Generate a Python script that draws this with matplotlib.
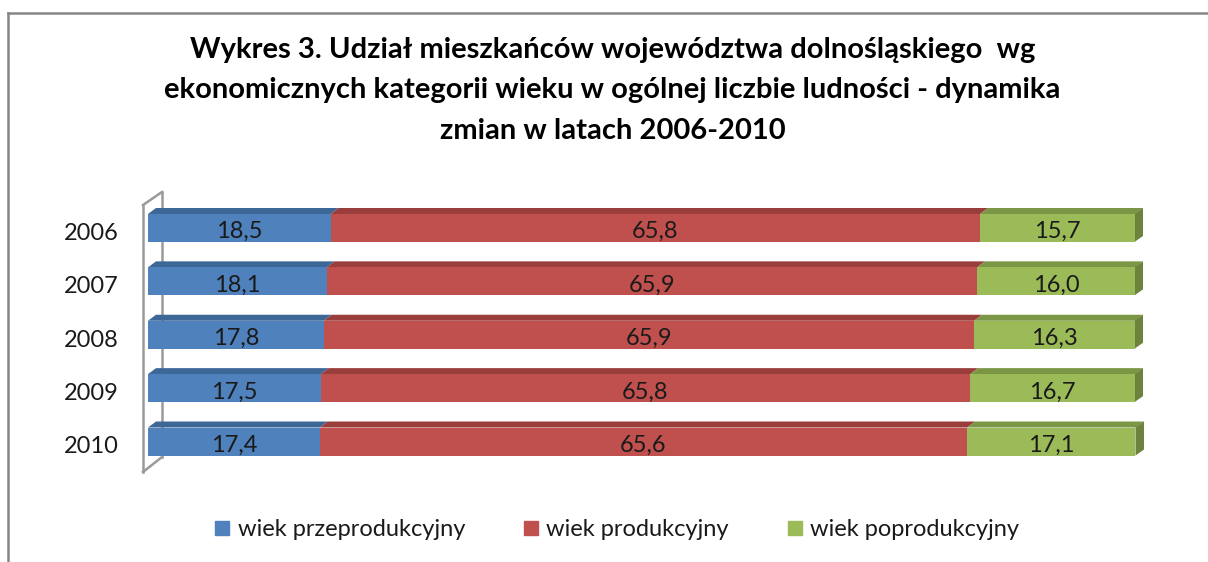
import matplotlib
matplotlib.use("Agg")
import matplotlib.pyplot as plt
from matplotlib.patches import Polygon
from matplotlib.lines import Line2D
import numpy as np

years = ["2006", "2007", "2008", "2009", "2010"]
pre = [18.5, 18.1, 17.8, 17.5, 17.4]
prod = [65.8, 65.9, 65.9, 65.8, 65.6]
post = [15.7, 16.0, 16.3, 16.7, 17.1]
series_names = ["wiek przeprodukcyjny", "wiek produkcyjny", "wiek poprodukcyjny"]
front_colors = ["#4F81BD", "#C0504D", "#9BBB59"]
top_colors = ["#3C6797", "#9A3E3C", "#7B9645"]
side_colors = ["#355A85", "#873634", "#6B833C"]
title = ("Wykres 3. Udział mieszkańców województwa dolnośląskiego  wg\n"
         "ekonomicznych kategorii wieku w ogólnej liczbie ludności - dynamika\n"
         "zmian w latach 2006-2010")

plt.rcParams['font.family'] = ['Lato', 'DejaVu Sans']

W, H = 1208, 562
fig = plt.figure(figsize=(W / 100, H / 100), dpi=100)

# frame
fig.add_artist(Line2D([8 / W, 8 / W], [0, 1 - 13 / H], color="#868686", lw=1.8))
fig.add_artist(Line2D([8 / W, 1], [1 - 13 / H, 1 - 13 / H], color="#868686", lw=1.8))

fig.text(0.507, 1 - 37 / H, title, ha="center", va="top", fontsize=21,
         fontweight="bold", linespacing=1.68)

ax_l, ax_r = 148, 1135
ax_t, ax_b = 201.3, 468.2
ax = fig.add_axes([ax_l / W, 1 - ax_b / H, (ax_r - ax_l) / W, (ax_b - ax_t) / H])
ax.set_xlim(0, 100)
ax.set_ylim(len(years) - 0.5, -0.5)
ax.axis("off")

px_x = (ax_r - ax_l) / 100.0
px_y = (ax_b - ax_t) / len(years)
dx = 8 / px_x
dy = 6 / px_y
bh = 28 / px_y

ypos = np.arange(len(years))
data = [pre, prod, post]


def ydat(p):
    return -0.5 + (p - ax_t) / px_y


# wall
wfx = -5 / px_x
wbx = 14 / px_x
wall_kw = dict(color="#9A9A9A", lw=1.8, clip_on=False)
ax.plot([wfx, wfx], [ydat(205), ydat(472)], zorder=1, **wall_kw)
ax.plot([wfx, wbx], [ydat(205), ydat(192)], zorder=1, **wall_kw)
ax.plot([wfx, wbx], [ydat(472), ydat(457)], zorder=1, **wall_kw)
ax.plot([wbx, wbx], [ydat(192), ydat(457)], zorder=0.5, **wall_kw)

left = np.zeros(len(years))
for si, vals in enumerate(data):
    vals = np.array(vals)
    ax.barh(ypos, vals, left=left, height=bh, color=front_colors[si],
            edgecolor="none", zorder=3)
    for i, y in enumerate(ypos):
        x0, x1 = left[i], left[i] + vals[i]
        yt = y - bh / 2
        top = Polygon([(x0, yt), (x1, yt), (x1 + dx, yt - dy), (x0 + dx, yt - dy)],
                      closed=True, facecolor=top_colors[si], edgecolor="none",
                      zorder=2, clip_on=False)
        ax.add_patch(top)
        if si == len(data) - 1:
            yb = y + bh / 2
            xs = x1 - 0.05
            side = Polygon([(xs, yt), (x1 + dx, yt - dy), (x1 + dx, yb - dy), (xs, yb)],
                           closed=True, facecolor=side_colors[si], edgecolor="none",
                           zorder=2, clip_on=False)
            ax.add_patch(side)
        ax.text((x0 + x1) / 2, y + 0.07, f"{vals[i]:.1f}".replace(".", ","),
                ha="center", va="center", fontsize=17, color="#1a1a1a", zorder=5)
    left = left + vals

for i, yl in enumerate(years):
    ax.text(-29 / px_x, ypos[i] + 0.1, yl, ha="right", va="center",
            fontsize=17, color="#1a1a1a", clip_on=False)

handles = [Line2D([0], [0], marker="s", linestyle="none", markersize=9.5,
                  markerfacecolor=c, markeredgecolor=c) for c in front_colors]
fig.legend(handles, series_names, loc="center", bbox_to_anchor=(0.511, 1 - 530 / H),
           ncol=3, frameon=False, fontsize=17, handlelength=0.6, handletextpad=0.35,
           columnspacing=2.5, labelcolor="#1a1a1a")

fig.savefig("out.png", dpi=100, facecolor="white")
